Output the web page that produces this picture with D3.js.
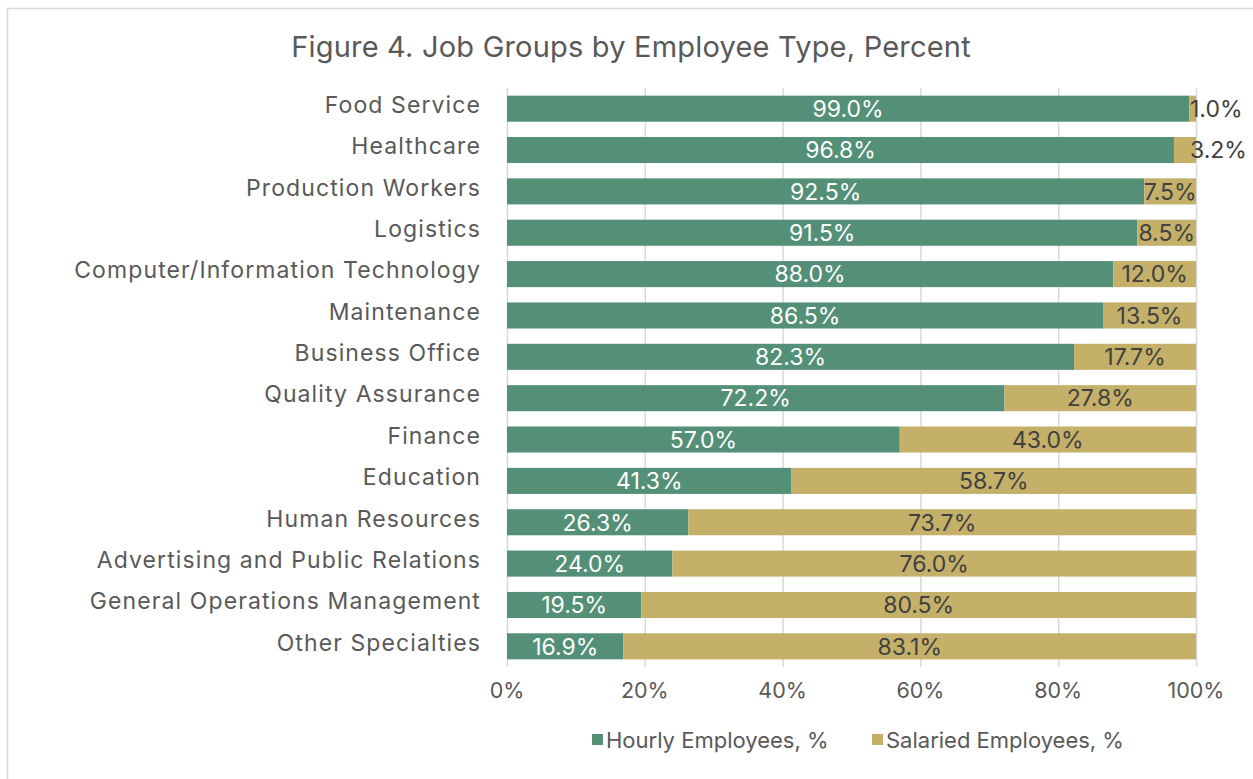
<!DOCTYPE html>
<html>
<head>
<meta charset="utf-8">
<script src="https://cdn.jsdelivr.net/npm/d3@7"></script>
<style>
  body { margin: 0; background: #fff; }
  svg text { font-family: "Inter", "Open Sans", sans-serif; }
</style>
</head>
<body>
<div class="chart"></div>
<script>
var categories = [
  "Food Service", "Healthcare", "Production Workers", "Logistics",
  "Computer/Information Technology", "Maintenance", "Business Office",
  "Quality Assurance", "Finance", "Education", "Human Resources",
  "Advertising and Public Relations", "General Operations Management",
  "Other Specialties"
];
var hourly = [99.0, 96.8, 92.5, 91.5, 88.0, 86.5, 82.3, 72.2, 57.0, 41.3, 26.3, 24.0, 19.5, 16.9];
var salaried = [1.0, 3.2, 7.5, 8.5, 12.0, 13.5, 17.7, 27.8, 43.0, 58.7, 73.7, 76.0, 80.5, 83.1];
var seriesNames = ["Hourly Employees, %", "Salaried Employees, %"];
var xTicks = [0, 20, 40, 60, 80, 100];

var colors = ["#548f77", "#c4b068"];

function drawChart() {
  var width = 1253;
  var height = 779;

  var svg = d3.select(".chart")
    .append("svg")
    .attr("width", width)
    .attr("height", height);

  // chart frame
  svg.append("rect")
    .attr("x", 7.5).attr("y", 8.5)
    .attr("width", width).attr("height", height)
    .attr("fill", "none")
    .attr("stroke", "#d9d9d9")
    .attr("stroke-width", 1.5);

  svg.append("text")
    .attr("x", 631)
    .attr("y", 57)
    .attr("text-anchor", "middle")
    .attr("fill", "#595959")
    .style("font-size", "29px")
    .style("letter-spacing", "0.2px")
    .text("Figure 4. Job Groups by Employee Type, Percent");

  var x = d3.scaleLinear().domain([0, 100]).range([507, 1196]);
  var y = d3.scaleBand().domain(categories).range([88, 667]).paddingInner(0.37).paddingOuter(0.185);

  // gridlines
  svg.append("g").selectAll("line")
    .data(xTicks)
    .enter()
    .append("line")
    .attr("x1", function (d) { return x(d) + 0.5; })
    .attr("x2", function (d) { return x(d) + 0.5; })
    .attr("y1", 88)
    .attr("y2", 667)
    .attr("stroke", "#d9d9d9")
    .attr("stroke-width", 1.5);

  var rows = categories.map(function (c, i) {
    return { name: c, h: hourly[i], s: salaried[i] };
  });

  var bars = svg.append("g");
  bars.selectAll("rect.h")
    .data(rows)
    .enter()
    .append("rect")
    .attr("class", "h")
    .attr("x", x(0))
    .attr("y", function (d) { return y(d.name); })
    .attr("width", function (d) { return x(d.h) - x(0); })
    .attr("height", y.bandwidth())
    .attr("fill", colors[0]);

  bars.selectAll("rect.s")
    .data(rows)
    .enter()
    .append("rect")
    .attr("class", "s")
    .attr("x", function (d) { return x(d.h); })
    .attr("y", function (d) { return y(d.name); })
    .attr("width", function (d) { return x(d.h + d.s) - x(d.h); })
    .attr("height", y.bandwidth())
    .attr("fill", colors[1]);

  // data labels
  var labels = svg.append("g").style("font-size", "23px");
  labels.selectAll("text.h")
    .data(rows)
    .enter()
    .append("text")
    .attr("x", function (d) { return x(d.h / 2); })
    .attr("y", function (d) { return y(d.name) + y.bandwidth() / 2; })
    .attr("dy", "0.36em")
    .attr("text-anchor", "middle")
    .attr("fill", "#ffffff")
    .text(function (d) { return d.h.toFixed(1) + "%"; });

  labels.selectAll("text.s")
    .data(rows)
    .enter()
    .append("text")
    .attr("x", function (d) {
      return d.s < 5 ? x(100) - 6 : x(d.h + d.s / 2);
    })
    .attr("y", function (d) { return y(d.name) + y.bandwidth() / 2; })
    .attr("dy", "0.36em")
    .attr("text-anchor", function (d) { return d.s < 5 ? "start" : "middle"; })
    .attr("fill", "#404040")
    .text(function (d) { return d.s.toFixed(1) + "%"; });

  // category labels
  svg.append("g").selectAll("text")
    .data(categories)
    .enter()
    .append("text")
    .attr("x", 481)
    .attr("y", function (d) { return y(d) + y.bandwidth() / 2 - 4; })
    .attr("dy", "0.36em")
    .attr("text-anchor", "end")
    .attr("fill", "#595959")
    .style("font-size", "23px")
    .style("letter-spacing", "1.1px")
    .text(function (d) { return d; });

  // x tick labels
  svg.append("g").selectAll("text")
    .data(xTicks)
    .enter()
    .append("text")
    .attr("x", function (d) { return x(d); })
    .attr("y", 698)
    .attr("text-anchor", "middle")
    .attr("fill", "#595959")
    .style("font-size", "21.5px")
    .text(function (d) { return d + "%"; });

  // legend
  var legendX = [592, 872];
  var legend = svg.append("g");
  seriesNames.forEach(function (name, i) {
    legend.append("rect")
      .attr("x", legendX[i])
      .attr("y", 734)
      .attr("width", 11)
      .attr("height", 11)
      .attr("fill", colors[i]);
    legend.append("text")
      .attr("x", legendX[i] + 14)
      .attr("y", 748)
      .attr("fill", "#595959")
      .style("font-size", "22px")
      .text(name);
  });
}

drawChart();
</script>
</body>
</html>
